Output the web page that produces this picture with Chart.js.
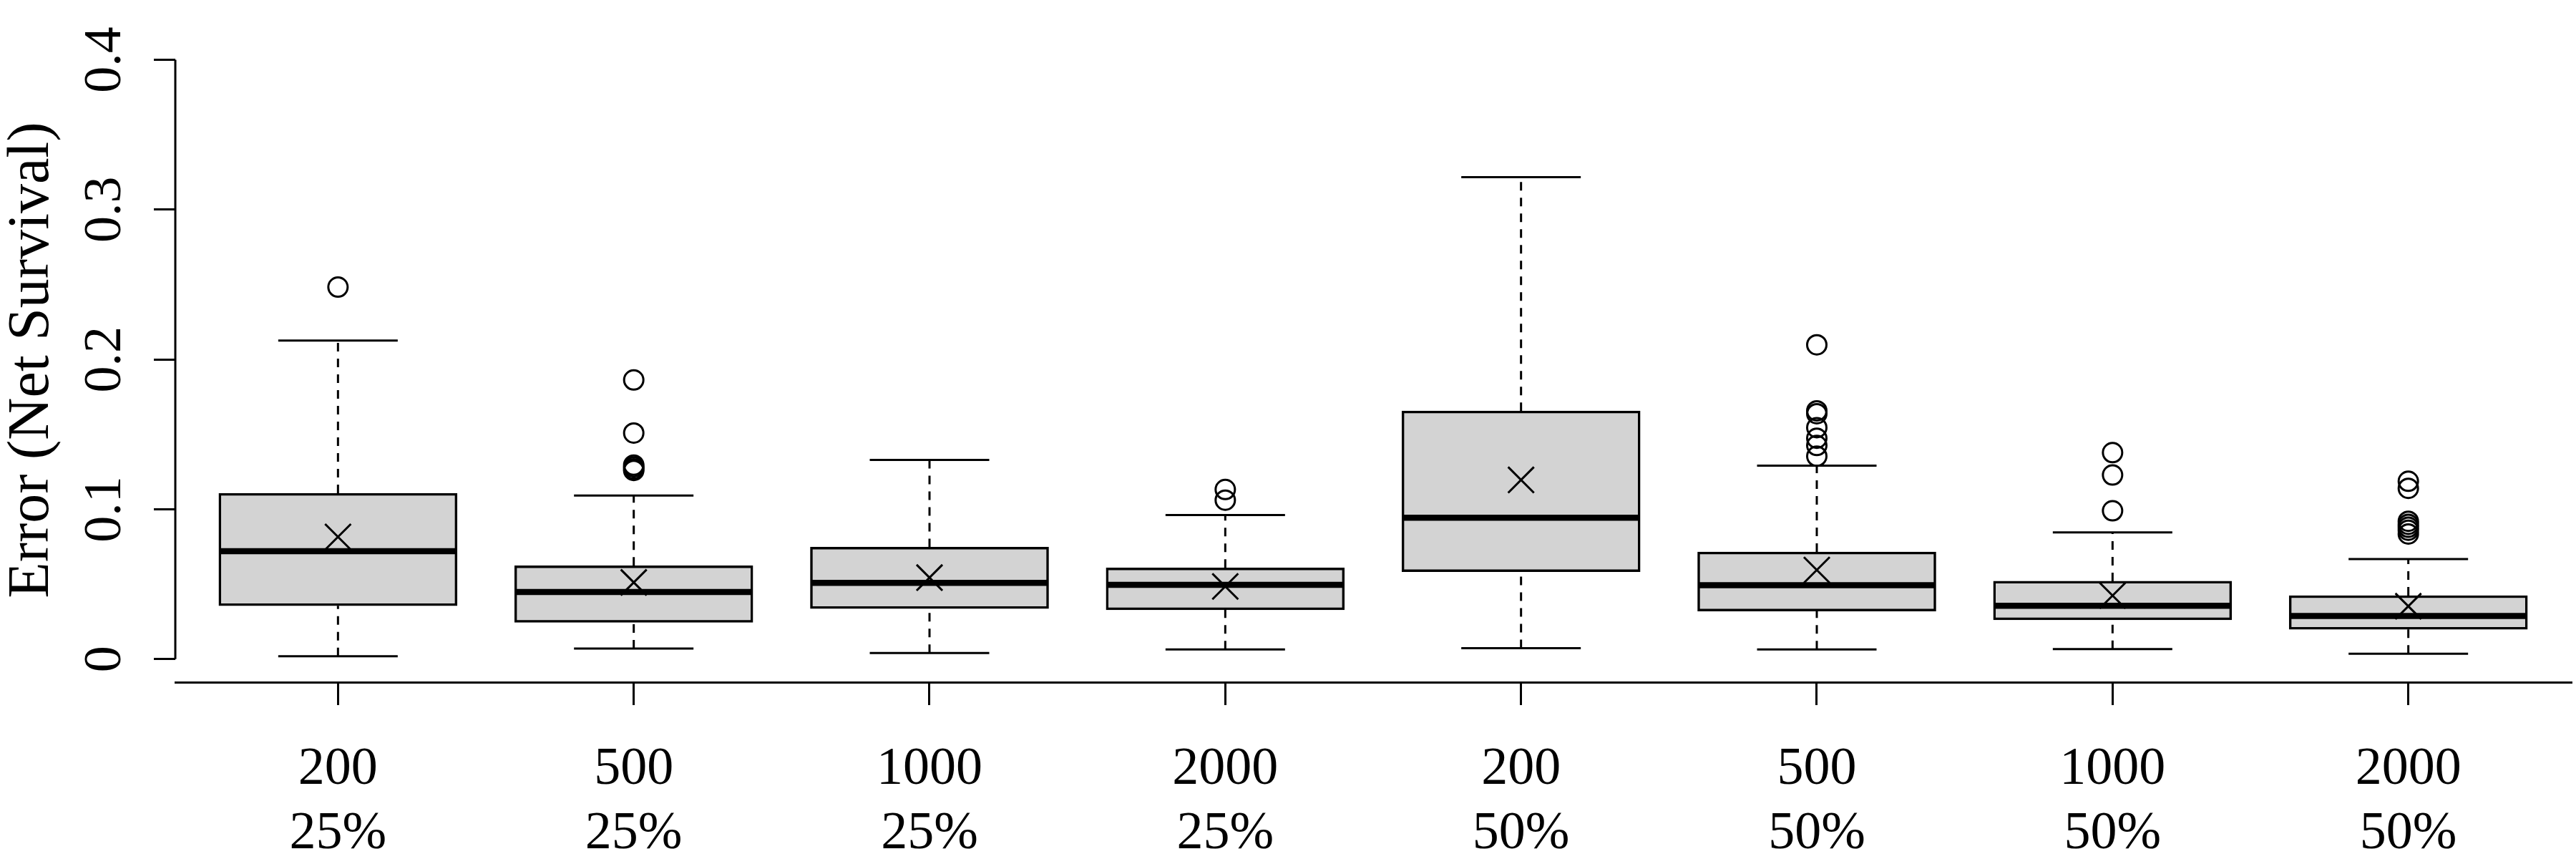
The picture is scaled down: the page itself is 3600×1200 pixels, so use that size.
<!DOCTYPE html>
<html>
<head>
<meta charset="utf-8">
<script src="https://cdn.jsdelivr.net/npm/chart.js@4.4.1/dist/chart.umd.min.js"></script>
<style>
  html, body { margin: 0; padding: 0; background: #ffffff; }
  canvas { display: block; }
</style>
</head>
<body>
<canvas id="chart" width="3600" height="1200"></canvas>
<script>
// sample size and censoring level of each box
const sizes = ['200', '500', '1000', '2000', '200', '500', '1000', '2000'];
const censoring = ['25%', '25%', '25%', '25%', '50%', '50%', '50%', '50%'];

// box statistics
const lowerWhisker = [0.0019, 0.0070, 0.0041, 0.0065, 0.0073, 0.0064, 0.0067, 0.0036];
const lowerQuartile = [0.0356, 0.0245, 0.0337, 0.0329, 0.0583, 0.0321, 0.0262, 0.0199];
const medians = [0.0720, 0.0448, 0.0509, 0.0496, 0.0944, 0.0493, 0.0356, 0.0288];
const upperQuartile = [0.1107, 0.0623, 0.0747, 0.0609, 0.1656, 0.0715, 0.0520, 0.0424];
const upperWhisker = [0.2126, 0.1092, 0.1330, 0.0962, 0.3217, 0.1291, 0.0846, 0.0668];
const means = [0.0816, 0.0512, 0.0544, 0.0485, 0.1196, 0.0595, 0.0424, 0.0353];
const outliers = [
    [0.2483],
    [0.1863, 0.1509, 0.1295, 0.1283, 0.1270, 0.1259],
    [],
    [0.1132, 0.1061],
    [],
    [0.2098, 0.1657, 0.1638, 0.1545, 0.1474, 0.1426, 0.1354],
    [0.1378, 0.1229, 0.0990],
    [0.1187, 0.1140, 0.0920, 0.0900, 0.0880, 0.0860, 0.0835]
];

// y axis ticks
const yTickValues = [0, 0.1, 0.2, 0.3, 0.4];
const yTickLabels = ['0', '0.1', '0.2', '0.3', '0.4'];

const xMin = 0.45, xMax = 8.55;
const yMin = -0.0154, yMax = 0.4146;
const serif = '"Liberation Serif", "Times New Roman", serif';

function pos(i) {
    return i + 1;
}

function buildBoxes() {
    return sizes.map(function (s, i) {
        return { x: pos(i), y: [lowerQuartile[i], upperQuartile[i]] };
    });
}

function buildWhiskers() {
    let pts = [];
    sizes.forEach(function (s, i) {
        pts.push({ x: pos(i), y: lowerWhisker[i] });
        pts.push({ x: pos(i), y: lowerQuartile[i] });
        pts.push({ x: pos(i), y: null });
        pts.push({ x: pos(i), y: upperQuartile[i] });
        pts.push({ x: pos(i), y: upperWhisker[i] });
        pts.push({ x: pos(i), y: null });
    });
    return pts;
}

function buildCaps() {
    let pts = [];
    sizes.forEach(function (s, i) {
        pts.push({ x: pos(i), y: lowerWhisker[i] });
        pts.push({ x: pos(i), y: upperWhisker[i] });
    });
    return pts;
}

function buildOutliers() {
    let pts = [];
    outliers.forEach(function (list, i) {
        list.forEach(function (v) {
            pts.push({ x: pos(i), y: v });
        });
    });
    return pts;
}

const ctx = document.getElementById('chart');

new Chart(ctx, {
    type: 'bar',
    data: {
        datasets: [
            {
                // mean markers
                type: 'scatter',
                order: 0,
                data: means.map(function (m, i) { return { x: pos(i), y: m }; }),
                pointStyle: 'crossRot',
                pointRadius: 25.5,
                borderColor: '#000000',
                borderWidth: 3,
                backgroundColor: 'transparent'
            },
            {
                // outliers
                type: 'scatter',
                order: 1,
                data: buildOutliers(),
                pointStyle: 'circle',
                pointRadius: 13.5,
                borderColor: '#000000',
                borderWidth: 3,
                backgroundColor: 'transparent'
            },
            {
                // medians
                type: 'scatter',
                order: 2,
                data: medians.map(function (m, i) { return { x: pos(i), y: m }; }),
                pointStyle: 'line',
                pointRadius: 164,
                borderColor: '#000000',
                borderWidth: 8.5,
                backgroundColor: '#000000'
            },
            {
                // whisker caps
                type: 'scatter',
                order: 3,
                data: buildCaps(),
                pointStyle: 'line',
                pointRadius: 83.5,
                borderColor: '#000000',
                borderWidth: 3
            },
            {
                // whiskers
                type: 'line',
                order: 4,
                data: buildWhiskers(),
                borderColor: '#000000',
                borderWidth: 3,
                borderDash: [12, 10],
                pointRadius: 0,
                spanGaps: false,
                fill: false
            },
            {
                // left axis line from 0 to 0.4
                type: 'line',
                order: 5,
                clip: false,
                data: [
                    { x: xMin, y: yTickValues[0] },
                    { x: xMin, y: yTickValues[yTickValues.length - 1] }
                ],
                borderColor: '#000000',
                borderWidth: 3,
                pointRadius: 0,
                fill: false
            },
            {
                // boxes
                type: 'bar',
                order: 6,
                data: buildBoxes(),
                backgroundColor: '#d3d3d3',
                borderColor: '#000000',
                borderWidth: 3.5,
                borderSkipped: false,
                barThickness: 333
            }
        ]
    },
    options: {
        responsive: false,
        devicePixelRatio: 1,
        animation: false,
        events: [],
        layout: {
            autoPadding: false,
            padding: { left: 0, top: 53, right: 7, bottom: 0 }
        },
        plugins: {
            legend: { display: false },
            tooltip: { enabled: false },
            title: { display: false }
        },
        scales: {
            x: {
                type: 'linear',
                min: xMin,
                max: xMax,
                offset: false,
                afterBuildTicks: function (scale) {
                    scale.ticks = sizes.map(function (s, i) { return { value: pos(i) }; });
                },
                afterFit: function (scale) {
                    scale.height = 247;
                    scale.paddingLeft = 0;
                    scale.paddingRight = 0;
                },
                border: { display: true, color: '#000000', width: 3 },
                grid: {
                    offset: false,
                    drawOnChartArea: false,
                    drawTicks: true,
                    tickLength: 32,
                    color: '#000000',
                    lineWidth: 3
                },
                ticks: {
                    autoSkip: false,
                    maxRotation: 0,
                    minRotation: 0,
                    padding: 45,
                    color: '#000000',
                    font: { family: serif, size: 74, lineHeight: 1.22 },
                    callback: function (value) {
                        const i = Math.round(value) - 1;
                        return [sizes[i], censoring[i]];
                    }
                }
            },
            y: {
                type: 'linear',
                min: yMin,
                max: yMax,
                afterBuildTicks: function (scale) {
                    scale.ticks = yTickValues.map(function (v) { return { value: v }; });
                },
                afterFit: function (scale) {
                    scale.width = 245;
                    scale.paddingTop = 0;
                    scale.paddingBottom = 0;
                },
                border: { display: false },
                grid: {
                    drawOnChartArea: false,
                    drawTicks: true,
                    tickLength: 30,
                    color: '#000000',
                    lineWidth: 3
                },
                ticks: {
                    minRotation: 90,
                    maxRotation: 90,
                    crossAlign: 'center',
                    padding: 20,
                    color: '#000000',
                    font: { family: serif, size: 74 },
                    callback: function (value, index) {
                        return yTickLabels[index];
                    }
                },
                title: {
                    display: true,
                    text: 'Error (Net Survival)',
                    color: '#000000',
                    padding: 0,
                    font: { family: serif, size: 82, lineHeight: 1.12 }
                }
            }
        }
    }
});
</script>
</body>
</html>
